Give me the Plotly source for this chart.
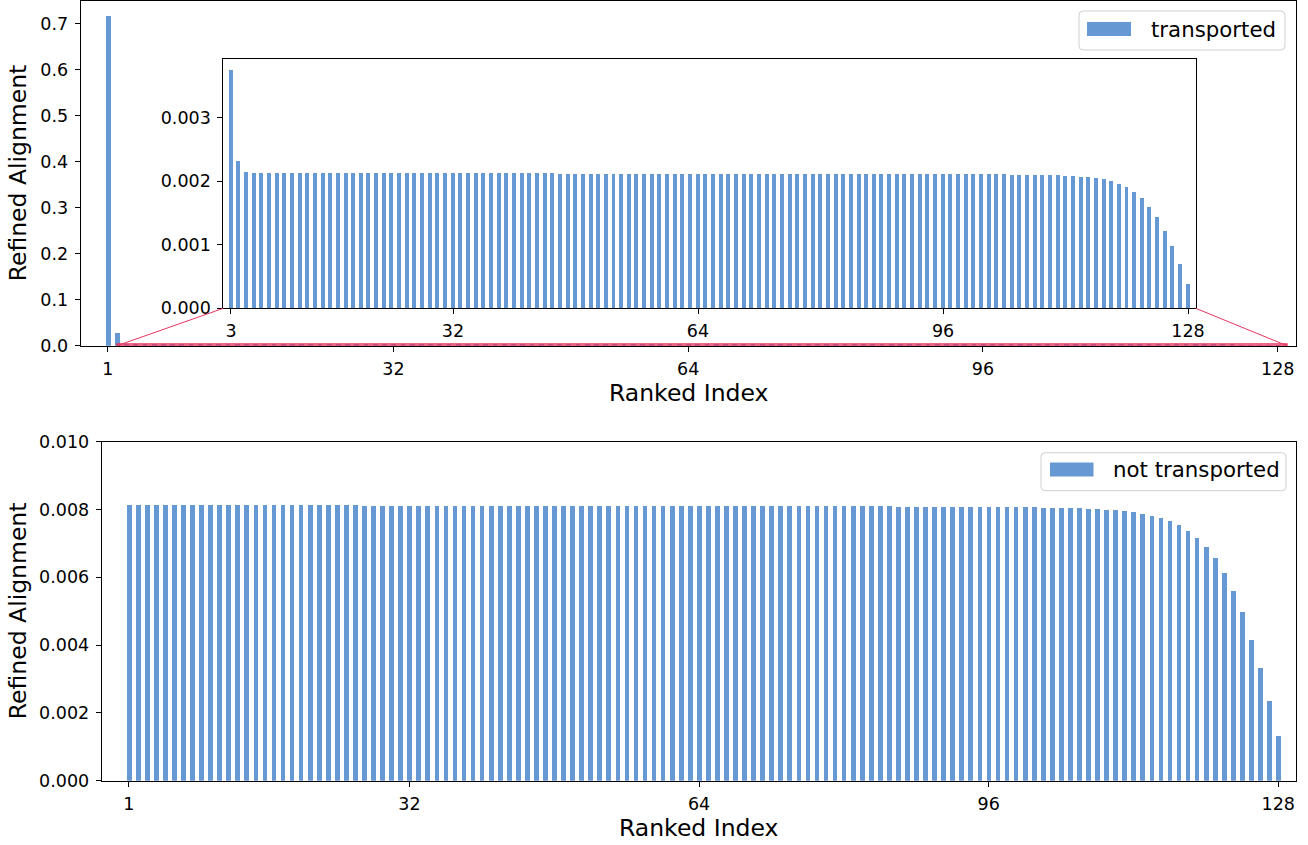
import plotly.graph_objects as go

# ---------------------------------------------------------------- data
rank = list(range(1, 129))

transported = [
    0.7174, 0.0270, 0.003741, 0.002312, 0.002140, 0.002124, 0.002124, 0.002124,
    0.002124, 0.002124, 0.002124, 0.002124, 0.002124, 0.002124, 0.002124, 0.002124,
    0.002124, 0.002124, 0.002124, 0.002124, 0.002124, 0.002124, 0.002124, 0.002124,
    0.002124, 0.002124, 0.002124, 0.002124, 0.002124, 0.002124, 0.002124, 0.002124,
    0.002124, 0.002124, 0.002124, 0.002124, 0.002124, 0.002124, 0.002124, 0.002124,
    0.002124, 0.002124, 0.002124, 0.002124, 0.002124, 0.002108, 0.002108, 0.002108,
    0.002108, 0.002108, 0.002108, 0.002108, 0.002108, 0.002108, 0.002108, 0.002108,
    0.002108, 0.002108, 0.002108, 0.002108, 0.002108, 0.002108, 0.002108, 0.002108,
    0.002108, 0.002108, 0.002108, 0.002108, 0.002108, 0.002108, 0.002108, 0.002108,
    0.002108, 0.002108, 0.002108, 0.002108, 0.002108, 0.002108, 0.002108, 0.002108,
    0.002108, 0.002108, 0.002108, 0.002108, 0.002108, 0.002108, 0.002108, 0.002108,
    0.002108, 0.002108, 0.002108, 0.002108, 0.002108, 0.002108, 0.002108, 0.002108,
    0.002108, 0.002108, 0.002108, 0.002108, 0.002108, 0.002108, 0.002108, 0.002108,
    0.002093, 0.002093, 0.002093, 0.002093, 0.002093, 0.002093, 0.002093, 0.002077,
    0.002077, 0.002061, 0.002061, 0.002046, 0.002030, 0.001998, 0.001951, 0.001904,
    0.001826, 0.001732, 0.001590, 0.001433, 0.001214, 0.000978, 0.000695, 0.000381,
]

not_transported = [
    0.00813, 0.00813, 0.00813, 0.00813, 0.00813, 0.00813, 0.00813, 0.00813,
    0.00813, 0.00813, 0.00813, 0.00813, 0.00813, 0.00813, 0.00813, 0.00813,
    0.00813, 0.00813, 0.00813, 0.00813, 0.00813, 0.00813, 0.00813, 0.00813,
    0.00813, 0.00813, 0.00810, 0.00810, 0.00810, 0.00810, 0.00810, 0.00810,
    0.00810, 0.00810, 0.00810, 0.00810, 0.00810, 0.00810, 0.00810, 0.00810,
    0.00810, 0.00810, 0.00810, 0.00810, 0.00810, 0.00810, 0.00810, 0.00810,
    0.00810, 0.00810, 0.00810, 0.00810, 0.00810, 0.00810, 0.00810, 0.00810,
    0.00810, 0.00810, 0.00810, 0.00810, 0.00810, 0.00810, 0.00810, 0.00810,
    0.00810, 0.00810, 0.00810, 0.00810, 0.00810, 0.00810, 0.00810, 0.00810,
    0.00810, 0.00810, 0.00810, 0.00810, 0.00810, 0.00810, 0.00810, 0.00810,
    0.00810, 0.00810, 0.00810, 0.00810, 0.00810, 0.008074, 0.008074, 0.008074,
    0.008074, 0.008074, 0.008074, 0.008074, 0.008074, 0.008074, 0.008074, 0.008074,
    0.008074, 0.008074, 0.008074, 0.008074, 0.008074, 0.008044, 0.008044, 0.008044,
    0.008044, 0.008044, 0.008015, 0.008015, 0.007985, 0.007985, 0.007956, 0.007926,
    0.007867, 0.007808, 0.007749, 0.007661, 0.007543, 0.007366, 0.007159, 0.006894,
    0.006569, 0.006127, 0.005596, 0.004976, 0.004150, 0.003324, 0.002351, 0.001319,
]

x_ticks = [1, 32, 64, 96, 128]
inset_x_ticks = [3, 32, 64, 96, 128]
top_y_ticks = [0.0, 0.1, 0.2, 0.3, 0.4, 0.5, 0.6, 0.7]
inset_y_ticks = [0.000, 0.001, 0.002, 0.003]
bottom_y_ticks = [0.000, 0.002, 0.004, 0.006, 0.008, 0.010]

series_names = ["transported", "not transported"]

# ---------------------------------------------------------------- style
W, H = 1308, 845
BAR = "#6699d3"
RED = "#e6345f"
FONT = "DejaVu Sans"
TICK_SIZE = 17.5
LABEL_SIZE = 23.5
LEGEND_SIZE = 21.3
BAR_WIDTH = 0.52

# panel boxes in pixels: (left, right), (top, bottom)
TOP = {"x": (80.7, 1295.7), "y": (1.0, 345.7)}
BOT = {"x": (101.7, 1296.0), "y": (441.7, 780.7)}
INS = {"x": (223.3, 1195.7), "y": (59.0, 308.3)}

top_xrange, top_yrange = [-1.95, 129.95], [0, 0.75]
bot_xrange, bot_yrange = [-2.0, 129.96], [0, 0.010]
ins_xrange, ins_yrange = [2, 129], [0, 0.00392]


def fx(px):
    return px / W


def fy(py):
    return 1 - py / H


def data_to_px(box, xr, yr, xv, yv):
    (l, r), (t, b) = box["x"], box["y"]
    px = l + (xv - xr[0]) / (xr[1] - xr[0]) * (r - l)
    py = b - (yv - yr[0]) / (yr[1] - yr[0]) * (b - t)
    return px, py


def x_axis(box, rng, ticks, anchor):
    return dict(
        domain=[fx(box["x"][0]), fx(box["x"][1])], range=rng, anchor=anchor,
        tickmode="array", tickvals=ticks, ticktext=[str(t) for t in ticks],
        ticks="outside", ticklen=5, tickwidth=1, tickcolor="black",
        showline=True, mirror=True, linecolor="black", linewidth=1,
        showgrid=False, zeroline=False, ticklabelstandoff=2, automargin=False,
        tickfont=dict(family=FONT, size=TICK_SIZE, color="black"),
    )


def y_axis(box, rng, ticks, fmt, anchor):
    return dict(
        domain=[fy(box["y"][1]), fy(box["y"][0])], range=rng, anchor=anchor,
        tickmode="array", tickvals=ticks, tickformat=fmt,
        ticks="outside", ticklen=5, tickwidth=1, tickcolor="black",
        showline=True, mirror=True, linecolor="black", linewidth=1,
        showgrid=False, zeroline=False, ticklabelstandoff=3, automargin=False,
        tickfont=dict(family=FONT, size=TICK_SIZE, color="black"),
    )


def rounded_rect(x0, y0, x1, y1, r):
    return (
        f"M {fx(x0 + r)},{fy(y0)} L {fx(x1 - r)},{fy(y0)} "
        f"Q {fx(x1)},{fy(y0)} {fx(x1)},{fy(y0 + r)} "
        f"L {fx(x1)},{fy(y1 - r)} Q {fx(x1)},{fy(y1)} {fx(x1 - r)},{fy(y1)} "
        f"L {fx(x0 + r)},{fy(y1)} Q {fx(x0)},{fy(y1)} {fx(x0)},{fy(y1 - r)} "
        f"L {fx(x0)},{fy(y0 + r)} Q {fx(x0)},{fy(y0)} {fx(x0 + r)},{fy(y0)} Z"
    )


# ---------------------------------------------------------------- traces
fig = go.Figure()
fig.add_trace(go.Bar(x=rank, y=transported, width=BAR_WIDTH, marker=dict(color=BAR, line=dict(width=0)),
                     xaxis="x", yaxis="y", showlegend=False))
fig.add_trace(go.Bar(x=rank[2:], y=transported[2:], width=BAR_WIDTH, marker=dict(color=BAR, line=dict(width=0)),
                     xaxis="x3", yaxis="y3", showlegend=False))
fig.add_trace(go.Bar(x=rank, y=not_transported, width=BAR_WIDTH, marker=dict(color=BAR, line=dict(width=0)),
                     xaxis="x2", yaxis="y2", showlegend=False))

# ---------------------------------------------------------------- shapes
shapes = []
# zoom region marker on the upper panel
shapes.append(dict(type="rect", xref="x", yref="y", x0=ins_xrange[0], x1=ins_xrange[1],
                   y0=ins_yrange[0], y1=ins_yrange[1], line=dict(color=RED, width=1.5)))
lx, ly = data_to_px(TOP, top_xrange, top_yrange, ins_xrange[0], ins_yrange[0])
rx, ry = data_to_px(TOP, top_xrange, top_yrange, ins_xrange[1], ins_yrange[0])
shapes.append(dict(type="line", xref="paper", yref="paper", x0=fx(lx), y0=fy(ly),
                   x1=fx(INS["x"][0]), y1=fy(INS["y"][1]), line=dict(color=RED, width=1)))
shapes.append(dict(type="line", xref="paper", yref="paper", x0=fx(rx), y0=fy(ry),
                   x1=fx(INS["x"][1]), y1=fy(INS["y"][1]), line=dict(color=RED, width=1)))

# legend boxes
legends = [
    dict(box=(1079, 11, 1285, 50), patch=(1087, 22, 1131, 36), text_x=1149, text_y=29.5, name=series_names[0]),
    dict(box=(1041, 452.7, 1286, 490.7), patch=(1050, 462.5, 1093.5, 476.5), text_x=1111, text_y=470, name=series_names[1]),
]
annotations = []
for lg in legends:
    x0, y0, x1, y1 = lg["box"]
    shapes.append(dict(type="path", xref="paper", yref="paper", path=rounded_rect(x0, y0, x1, y1, 4),
                       fillcolor="rgba(255,255,255,0.8)", line=dict(color="#d0d0d0", width=1)))
    px0, py0, px1, py1 = lg["patch"]
    shapes.append(dict(type="rect", xref="paper", yref="paper", x0=fx(px0), x1=fx(px1),
                       y0=fy(py1), y1=fy(py0), fillcolor=BAR, line=dict(width=0)))
    annotations.append(dict(xref="paper", yref="paper", x=fx(lg["text_x"]), y=fy(lg["text_y"]),
                            xanchor="left", yanchor="middle", showarrow=False, text=lg["name"],
                            font=dict(family=FONT, size=LEGEND_SIZE, color="black")))

# axis titles
for cx, cy in [(688.5, 393), (699, 828)]:
    annotations.append(dict(xref="paper", yref="paper", x=fx(cx), y=fy(cy), xanchor="center",
                            yanchor="middle", showarrow=False, text="Ranked Index",
                            font=dict(family=FONT, size=LABEL_SIZE, color="black")))
for box in (TOP, BOT):
    cy = (box["y"][0] + box["y"][1]) / 2
    annotations.append(dict(xref="paper", yref="paper", x=fx(18), y=fy(cy), xanchor="center",
                            yanchor="middle", showarrow=False, text="Refined Alignment", textangle=-90,
                            font=dict(family=FONT, size=LABEL_SIZE, color="black")))

fig.update_layout(
    width=W, height=H, margin=dict(l=0, r=0, t=0, b=0, autoexpand=False),
    paper_bgcolor="white", plot_bgcolor="white",
    font=dict(family=FONT, color="black"),
    xaxis=x_axis(TOP, top_xrange, x_ticks, "y"),
    yaxis=y_axis(TOP, top_yrange, top_y_ticks, ".1f", "x"),
    xaxis2=x_axis(BOT, bot_xrange, x_ticks, "y2"),
    yaxis2=y_axis(BOT, bot_yrange, bottom_y_ticks, ".3f", "x2"),
    xaxis3=x_axis(INS, ins_xrange, inset_x_ticks, "y3"),
    yaxis3=y_axis(INS, ins_yrange, inset_y_ticks, ".3f", "x3"),
    shapes=shapes, annotations=annotations, bargap=0,
)

fig.write_html("out.html")
